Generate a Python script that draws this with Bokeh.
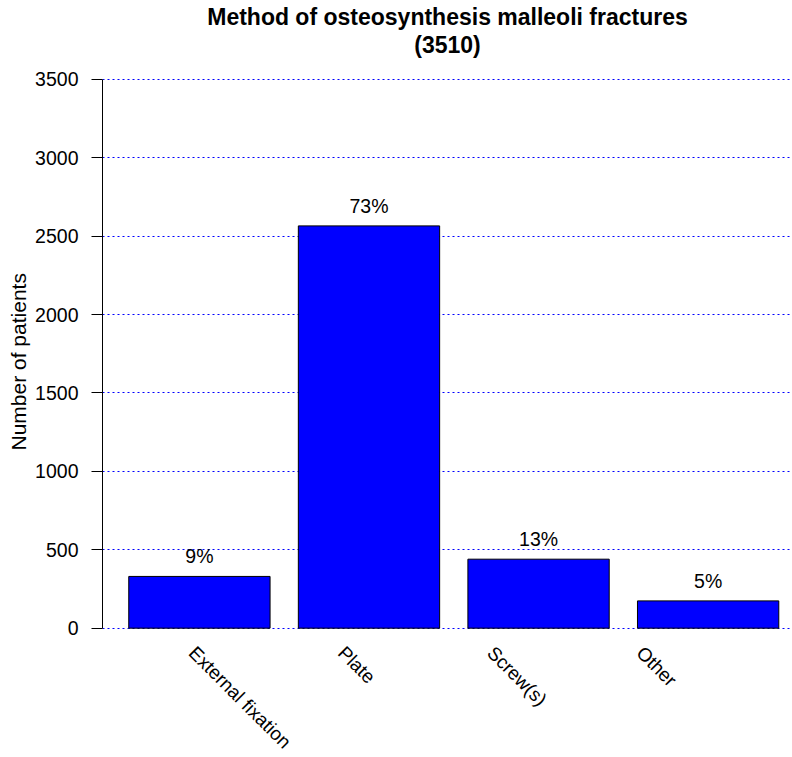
import numpy as np
from bokeh.plotting import figure
from bokeh.models import ColumnDataSource, Range1d, FixedTicker, LabelSet, Title
from bokeh.core.properties import value
from bokeh.embed import file_html
from bokeh.resources import INLINE

# ---- data ----
categories = ["External fixation", "Plate", "Screw(s)", "Other"]
patients = [330, 2566, 440, 174]
y_ticks = [0, 500, 1000, 1500, 2000, 2500, 3000, 3500]
title_text = "Method of osteosynthesis malleoli fractures"
y_label = "Number of patients"

total = sum(patients)
pct_labels = [f"{round(100 * v / total)}%" for v in patients]

# barplot-style positions (bar width 1, space 0.2)
centers = np.arange(len(categories)) * 1.2 + 0.7
label_x = centers * 0.88

FONT = "Liberation Sans"

src = ColumnDataSource(dict(x=centers, top=patients, pct=pct_labels,
                            cat=categories, lx=label_x))

p = figure(width=792, height=757,
           x_range=Range1d(0.0142, 4.897), y_range=Range1d(-825, 3640),
           output_backend="svg", toolbar_location=None, title=None,
           min_border_left=102, min_border_right=0,
           min_border_top=57, min_border_bottom=0)
p.outline_line_color = None
p.background_fill_color = "white"
p.border_fill_color = "white"

# titles
p.add_layout(Title(text=f"({total})", align="center",
                   text_font=FONT, text_font_size="23px",
                   text_font_style="bold", text_color="black", standoff=0), "above")
p.add_layout(Title(text=title_text, align="center",
                   text_font=FONT, text_font_size="23px",
                   text_font_style="bold", text_color="black", standoff=0), "above")

# y-axis title (placed as a side title so it can sit where the reference has it)
p.add_layout(Title(text=y_label, align="left", offset=307,
                   text_font=FONT, text_font_size="21px",
                   text_font_style="normal", text_color="black", standoff=6), "left")

# grid
p.xgrid.visible = False
p.ygrid.ticker = FixedTicker(ticks=y_ticks)
p.ygrid.grid_line_color = "#0000FF"
p.ygrid.grid_line_dash = "2 3"
p.ygrid.grid_line_width = 1

# axes
p.xaxis.visible = False
yax = p.yaxis[0]
yax.ticker = FixedTicker(ticks=y_ticks)
yax.bounds = (0, 3500)
yax.axis_line_color = "black"
yax.major_tick_line_color = "black"
yax.major_tick_out = 11
yax.major_tick_in = 0
yax.minor_tick_line_color = None
yax.major_label_standoff = 13
yax.major_label_text_font = FONT
yax.major_label_text_font_size = "19.5px"
yax.major_label_text_color = "black"

# bars
p.vbar(x="x", top="top", bottom=0, width=1.0, source=src,
       fill_color="#0000FF", line_color="black", line_width=1)

# percent labels
p.add_layout(LabelSet(x="x", y="top", text="pct", source=src,
                      text_align="center", text_baseline="alphabetic",
                      y_offset=13, text_font=value(FONT),
                      text_font_size="19.5px", text_color="black"))

# rotated category labels
p.add_layout(LabelSet(x="lx", y=0, text="cat", source=src,
                      angle=-np.pi / 4, text_align="left", text_baseline="top",
                      x_offset=12, y_offset=-14, text_font=value(FONT),
                      text_font_size="19px", text_color="black"))

open("out.html", "w").write(file_html(p, INLINE))
